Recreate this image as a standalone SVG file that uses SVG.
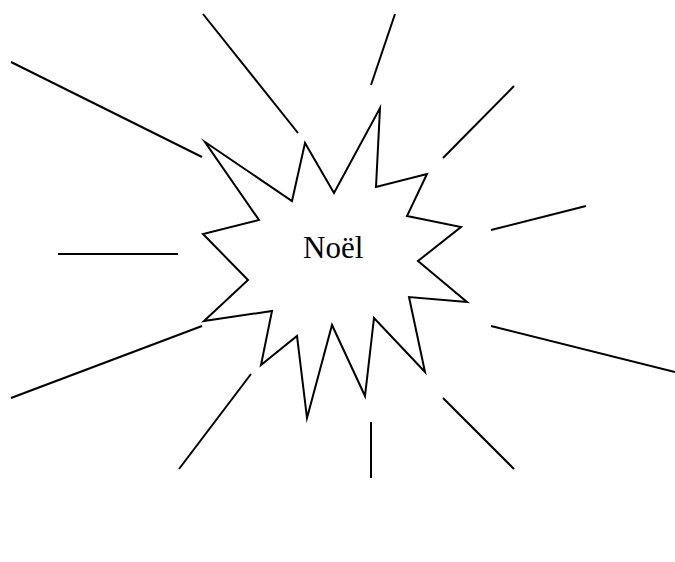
<svg xmlns="http://www.w3.org/2000/svg" width="675" height="562" viewBox="0 0 675 562">
<style>
.s{fill:#fff;stroke:#000;stroke-width:2;stroke-linejoin:miter;stroke-miterlimit:20}
.r line{stroke:#000;stroke-width:2}
.t{font-family:"Liberation Serif",serif;font-size:31px;fill:#000}
</style>
<rect width="675" height="562" fill="#fff"/>
<g id="rays" class="r">
<line x1="11" y1="62" x2="202" y2="157"/>
<line x1="203" y1="14" x2="298" y2="133"/>
<line x1="395" y1="14" x2="371" y2="85"/>
<line x1="514" y1="86" x2="443" y2="158"/>
<line x1="586" y1="206" x2="491" y2="230"/>
<line x1="58" y1="254" x2="178" y2="254"/>
<line x1="202" y1="326" x2="11" y2="398"/>
<line x1="251" y1="374" x2="179" y2="469"/>
<line x1="491" y1="326" x2="675" y2="372"/>
<line x1="443" y1="398" x2="514" y2="469"/>
<line x1="371" y1="422" x2="371" y2="478"/>
</g>
<g id="star">
<polygon class="s" points="205,142 292,201 305,143 334,193 380,108 376,187 427,174 407,216 461,227 418,261 467,302 409,297 425,372 374,318 365,396 332,325 307,418 297,336 261,365 272,311 204,321 248,280 203,234 259,220"/>
<text class="t" x="303" y="258">Noël</text>
</g>
</svg>
